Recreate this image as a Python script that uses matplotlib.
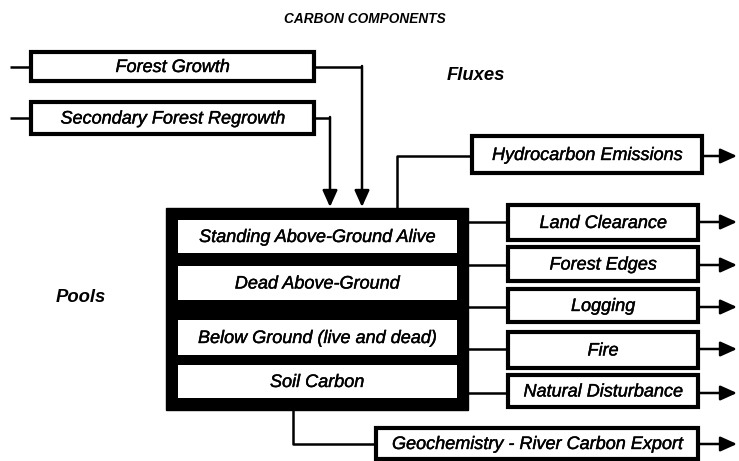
import matplotlib.pyplot as plt
import matplotlib.patheffects as pe
from matplotlib.patches import Rectangle

## Labels

title = "CARBON COMPONENTS"
inputs = ["Forest Growth", "Secondary Forest Regrowth"]
pools = ["Standing Above-Ground Alive", "Dead Above-Ground",
         "Below Ground (live and dead)", "Soil Carbon"]
fluxes = ["Land Clearance", "Forest Edges", "Logging", "Fire", "Natural Disturbance"]
top_flux = "Hydrocarbon Emissions"
bottom_flux = "Geochemistry - River Carbon Export"

plt.rcParams['font.family'] = ['Liberation Sans', 'DejaVu Sans']

fig = plt.figure(figsize=(7.39, 4.61), dpi=100)
ax = fig.add_axes([0, 0, 1, 1])
ax.set_xlim(0, 739)
ax.set_ylim(461, 0)
ax.axis('off')

lw = 3
heavy = [pe.withStroke(linewidth=0.3, foreground='black')]
txt = dict(fontsize=13, style='italic', ha='center', va='center', path_effects=heavy)


def box(x0, y0, x1, y1, label, lw=lw):
    ax.add_patch(Rectangle((x0, y0), x1 - x0, y1 - y0, fc='white', ec='black', lw=lw))
    ax.text((x0 + x1) / 2, (y0 + y1) / 2 + 1, label, **txt)


def arrow(x0, y0, x1, y1):
    ax.annotate("", xy=(x1, y1), xytext=(x0, y0),
                arrowprops=dict(arrowstyle="-|>,head_length=1.0,head_width=0.45",
                                color='black', lw=1.8, shrinkA=0, shrinkB=0))


def line(xs, ys):
    ax.plot(xs, ys, color='black', lw=1.8, solid_capstyle='butt')


ax.text(365, 19, title, fontsize=9.8, fontweight='bold', style='italic', ha='center', va='center')
ax.text(476, 76, "Fluxes", fontsize=13.3, fontweight='bold', style='italic', ha='center', va='center')
ax.text(81, 297, "Pools", fontsize=13.3, fontweight='bold', style='italic', ha='center', va='center')

# inputs
box(31, 52, 314, 81, inputs[0])
box(31, 102, 314, 134, inputs[1])
line([10, 31], [67, 67])
line([10, 31], [118, 118])
line([314, 362], [67, 67])
arrow(362, 66, 362, 207)
line([314, 330], [118, 118])
arrow(330, 117, 330, 207)

# pools
ax.add_patch(Rectangle((166, 208), 302, 202, fc='black', ec='black', lw=1))
pool_y = [(220, 253), (266, 300), (320, 355), (365, 398)]
for (y0, y1), lab in zip(pool_y, pools):
    ax.add_patch(Rectangle((178, y0), 279, y1 - y0, fc='white', ec='none'))
    ax.text(317, (y0 + y1) / 2 + 1, lab, **txt)

# top flux
line([397, 397, 472], [208, 156, 156])
box(472, 136, 702, 173, top_flux)
arrow(702, 156, 737, 156)

# side fluxes
flux_y = [(205, 240), (247, 281), (289, 322), (332, 368), (375, 407)]
flux_line = [222, 265, 307, 349, 393]
for (y0, y1), ly, lab in zip(flux_y, flux_line, fluxes):
    line([468, 508], [ly, ly])
    box(508, y0, 698, y1, lab)
    arrow(698, ly, 737, ly)

# bottom flux
line([293, 293, 376], [410, 444, 444])
box(376, 428, 698, 459, bottom_flux)
arrow(698, 444, 737, 444)

plt.savefig("out.png", dpi=100)
